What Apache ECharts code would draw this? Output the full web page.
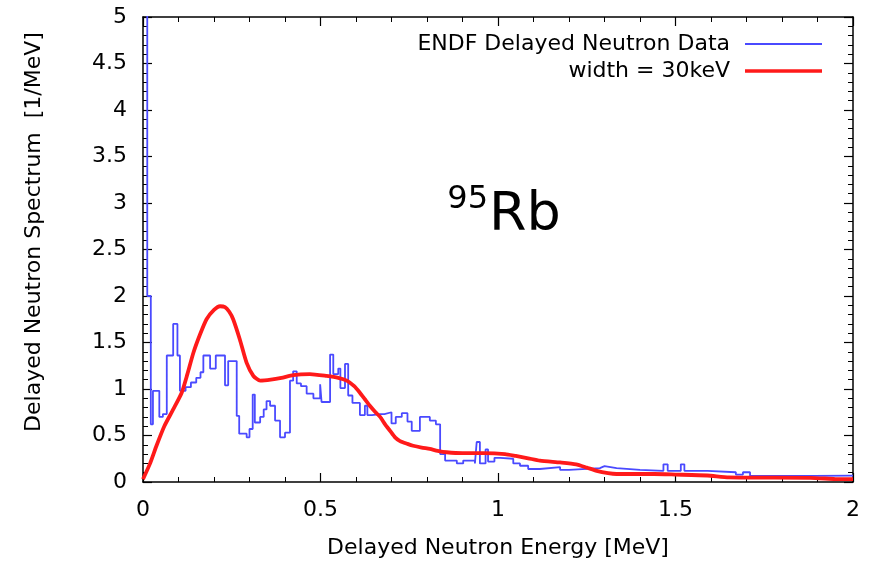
<!DOCTYPE html>
<html>
<head>
<meta charset="utf-8">
<script src="https://cdn.jsdelivr.net/npm/echarts@6/dist/echarts.min.js"></script>
<style>html,body{margin:0;padding:0;background:#fff}#c{width:876px;height:564px}</style>
</head>
<body>
<div id="c"></div>
<script>
// ENDF delayed neutron histogram: bin left edges (MeV) and values (1/MeV)
const blueE = [0, 0.012, 0.022, 0.028, 0.046, 0.056, 0.067, 0.085, 0.097, 0.104, 0.120, 0.135, 0.150, 0.162, 0.170, 0.189, 0.205, 0.231, 0.240, 0.264, 0.271, 0.292, 0.300, 0.309, 0.315, 0.330, 0.340, 0.348, 0.358, 0.372, 0.386, 0.400, 0.414, 0.423, 0.433, 0.445, 0.461, 0.480, 0.499, 0.503, 0.527, 0.536, 0.550, 0.556, 0.569, 0.578, 0.590, 0.611, 0.625, 0.632, 0.645, 0.668, 0.680, 0.700, 0.712, 0.729, 0.745, 0.757, 0.780, 0.808, 0.825, 0.837, 0.851, 0.884, 0.902, 0.935, 0.940, 0.949, 0.965, 0.972, 0.990, 1.006, 1.043, 1.062, 1.085, 1.118, 1.175, 1.200, 1.287, 1.300, 1.334, 1.400, 1.466, 1.478, 1.515, 1.525, 1.590, 1.670, 1.690, 1.710, 1.888, 2.000];
const blueV = [6.0, 2.0, 0.62, 0.98, 0.70, 0.73, 1.36, 1.70, 1.36, 0.98, 1.02, 1.07, 1.12, 1.18, 1.36, 1.22, 1.36, 1.04, 1.30, 0.71, 0.52, 0.48, 0.57, 0.94, 0.64, 0.70, 0.78, 0.87, 0.82, 0.66, 0.48, 0.53, 1.09, 1.19, 1.06, 1.03, 0.95, 0.90, 1.05, 0.86, 1.37, 1.16, 1.22, 1.01, 1.27, 0.93, 0.85, 0.72, 0.82, 0.72, 0.73, 0.73, 0.75, 0.63, 0.70, 0.74, 0.65, 0.55, 0.70, 0.66, 0.62, 0.30, 0.23, 0.20, 0.23, 0.20, 0.43, 0.20, 0.35, 0.22, 0.26, 0.25, 0.20, 0.175, 0.14, 0.16, 0.13, 0.15, 0.17, 0.15, 0.13, 0.12, 0.19, 0.12, 0.19, 0.12, 0.105, 0.08, 0.105, 0.065, 0.068, 0.068];
// Gaussian-broadened spectrum (width = 30 keV)
const redE = [0, 0.02, 0.038, 0.06, 0.085, 0.109, 0.125, 0.142, 0.16, 0.179, 0.20, 0.217, 0.231, 0.243, 0.254, 0.273, 0.292, 0.311, 0.33, 0.36, 0.39, 0.423, 0.47, 0.517, 0.55, 0.574, 0.595, 0.611, 0.625, 0.639, 0.655, 0.668, 0.682, 0.696, 0.71, 0.724, 0.745, 0.761, 0.785, 0.808, 0.83, 0.855, 0.90, 0.96, 1.02, 1.05, 1.085, 1.118, 1.175, 1.22, 1.25, 1.278, 1.31, 1.334, 1.44, 1.50, 1.59, 1.65, 1.88, 1.95, 2.0];
const redV = [0.03, 0.2, 0.39, 0.6, 0.78, 0.96, 1.16, 1.39, 1.58, 1.75, 1.85, 1.89, 1.88, 1.83, 1.75, 1.53, 1.28, 1.14, 1.09, 1.10, 1.12, 1.15, 1.16, 1.14, 1.12, 1.09, 1.03, 0.96, 0.89, 0.82, 0.75, 0.70, 0.62, 0.55, 0.48, 0.44, 0.41, 0.39, 0.37, 0.355, 0.335, 0.32, 0.31, 0.31, 0.30, 0.28, 0.255, 0.23, 0.21, 0.19, 0.155, 0.12, 0.095, 0.086, 0.086, 0.08, 0.07, 0.05, 0.045, 0.032, 0.03];
const seriesNames = ['ENDF Delayed Neutron Data', 'width = 30keV'];
const xTitle = 'Delayed Neutron Energy [MeV]';
const yTitle = 'Delayed Neutron Spectrum  [1/MeV]';

const FONT = 'DejaVu Sans';
const blueData = blueE.map((e, i) => [e, blueV[i]]);
const redData = redE.map((e, i) => [e, redV[i]]);

function axisCommon(showLabel) {
  return {
    type: 'value',
    axisLine: { show: true, onZero: false, lineStyle: { color: '#000', width: 1.5 } },
    axisTick: { show: true, inside: true, length: 9, lineStyle: { color: '#000', width: 1.2 } },
    minorTick: { show: true, splitNumber: 5, length: 5, lineStyle: { color: '#000', width: 1 } },
    splitLine: { show: false },
    axisLabel: { show: showLabel, color: '#000', fontFamily: FONT, fontSize: 22 }
  };
}

const chart = echarts.init(document.getElementById('c'), null, { renderer: 'canvas' });
chart.setOption({
  animation: false,
  backgroundColor: '#fff',
  grid: { left: 143, right: 23, top: 17, bottom: 81, containLabel: false },
  xAxis: [
    Object.assign(axisCommon(true), { min: 0, max: 2, interval: 0.5, position: 'bottom',
      name: xTitle, nameLocation: 'middle', nameGap: 55,
      nameTextStyle: { color: '#000', fontFamily: FONT, fontSize: 22 },
      axisLabel: { show: true, color: '#000', fontFamily: FONT, fontSize: 22, margin: 17 } }),
    Object.assign(axisCommon(false), { min: 0, max: 2, interval: 0.5, position: 'top' })
  ],
  yAxis: [
    Object.assign(axisCommon(true), { min: 0, max: 5, interval: 0.5, position: 'left',
      axisLabel: { show: true, color: '#000', fontFamily: FONT, fontSize: 22, margin: 16 } }),
    Object.assign(axisCommon(false), { min: 0, max: 5, interval: 0.5, position: 'right' })
  ],
  legend: [
    { data: [seriesNames[0]], right: 49, top: 28, align: 'right', itemWidth: 77, itemHeight: 2, icon: 'rect',
      textStyle: { color: '#000', fontFamily: FONT, fontSize: 22, padding: [0, 10, 0, 0] } },
    { data: [seriesNames[1]], right: 49, top: 55, align: 'right', itemWidth: 77, itemHeight: 3.5, icon: 'rect',
      textStyle: { color: '#000', fontFamily: FONT, fontSize: 22, padding: [0, 10, 0, 0] } }
  ],
  graphic: [
    { type: 'text', x: 34, y: 232, rotation: Math.PI / 2,
      style: { text: yTitle, fill: '#000', font: '22px "DejaVu Sans"', align: 'center', verticalAlign: 'middle' } },
    { type: 'text', x: 488, y: 200,
      style: { text: '95', fill: '#000', font: '32px "DejaVu Sans"', align: 'right', verticalAlign: 'middle' } },
    { type: 'text', x: 489, y: 189,
      style: { text: 'Rb', fill: '#000', font: '54px "DejaVu Sans"', align: 'left', verticalAlign: 'top' } }
  ],
  series: [
    { name: seriesNames[0], type: 'line', data: blueData, step: 'end', symbol: 'none',
      lineStyle: { color: '#4a4aff', width: 1.8 }, itemStyle: { color: '#4a4aff' }, clip: true },
    { name: seriesNames[1], type: 'line', data: redData, symbol: 'none', smooth: 0.2,
      lineStyle: { color: '#ff1a1a', width: 3.8 }, itemStyle: { color: '#ff1a1a' }, clip: true }
  ]
});
</script>
</body>
</html>
